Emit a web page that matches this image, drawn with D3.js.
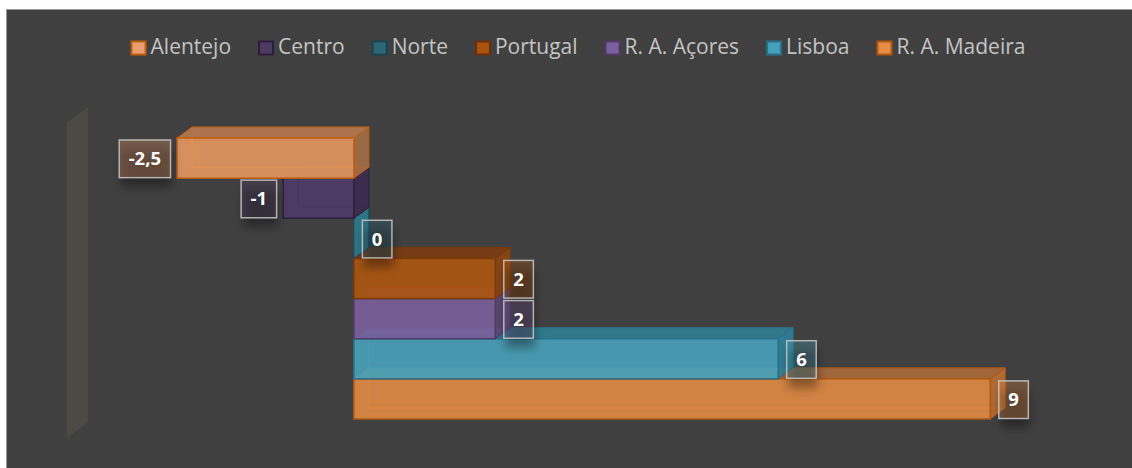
<!DOCTYPE html>
<html><head><meta charset="utf-8">
<script src="https://cdn.jsdelivr.net/npm/d3@7"></script>
<style>body{margin:0;background:#fff;overflow:hidden}</style></head>
<body><svg id="c" width="1132" height="468"></svg>
<script>
// ---- data ----
const categories = ["Alentejo","Centro","Norte","Portugal","R. A. Açores","Lisboa","R. A. Madeira"];
const values = [-2.5, -1, 0, 2, 2, 6, 9];
const valueLabels = ["-2,5","-1","0","2","2","6","9"];
const frontColors = ["#e4985f","#4e3b68","#2a6878","#ad5610","#7b609c","#48a2ba","#e08b42"];
const topColors   = ["#b4784d","#3f3153","#2b6170","#7b3d10","#5f4b7a","#2f7d90","#a9693a"];
const sideColors  = ["#a56c45","#3a2d4c","#2d7b8b","#8a4410","#5a4873","#2f8098","#b86e33"];
const strokeColors= ["#c0600f","#2c2040","#1a4a56","#7a3a0a","#4e3b66","#2a7088","#b0560f"];
const legendFill  = ["#e9a06e","#4b3b63","#2a6878","#a8520f","#7c5fa0","#43a0bb","#e78b45"];
const legendStroke= ["#c0600f","#2a1f3a","#1a4550","#6a300a","#4e3b66","#2a7088","#b0560f"];
const xDomain = [-4, 10];

const svg = d3.select("#c");
const W = 1132, H = 468;

// background
svg.append("rect").attr("x",0).attr("y",0).attr("width",W).attr("height",H).attr("fill","#ffffff");
svg.append("rect").attr("x",6.5).attr("y",9.5).attr("width",W).attr("height",H)
  .attr("fill","#404040").attr("stroke","#9a9a9a").attr("stroke-width",1);

const defs = svg.append("defs");
defs.append("filter").attr("id","blur").attr("x","-50%").attr("y","-50%").attr("width","200%").attr("height","200%")
  .append("feGaussianBlur").attr("stdDeviation",5);

const x = d3.scaleLinear().domain(xDomain).range([71, 1061]);
const y = d3.scaleBand().domain(categories).range([138, 419]).padding(0);
const bw = y.bandwidth();
const dx = 15, dy = -11;

// back wall
const wt = y.range()[0] - 15, wb = y.range()[1] + 19;
svg.append("polygon")
  .attr("points", [[67,wt],[88,wt-16],[88,wb-16],[67,wb]].map(p=>p.join(",")).join(" "))
  .attr("fill","#4b4a45");

// bars, drawn from bottom to top
const data = categories.map((c,i)=>({c, v:values[i], i}));
const gBars = svg.append("g");
data.slice().reverse().forEach(d=>{
  const x0 = x(Math.min(0,d.v)), x1 = x(Math.max(0,d.v));
  const yt = y(d.c), yb = yt + bw;
  const g = gBars.append("g");
  const st = strokeColors[d.i];
  g.append("path").attr("d",`M${x0+dx},${yt+dy}L${x0+dx},${yb+dy}L${x1+dx},${yb+dy}`)
    .attr("fill","none").attr("stroke",st).attr("stroke-width",1.5);
  g.append("polygon").attr("points",[[x0,yt],[x1,yt],[x1+dx,yt+dy],[x0+dx,yt+dy]].map(p=>p.join(",")).join(" "))
    .attr("fill",topColors[d.i]).attr("fill-opacity",0.92).attr("stroke",st).attr("stroke-width",1).attr("stroke-linejoin","round");
  g.append("polygon").attr("points",[[x1,yt],[x1+dx,yt+dy],[x1+dx,yb+dy],[x1,yb]].map(p=>p.join(",")).join(" "))
    .attr("fill",sideColors[d.i]).attr("fill-opacity",0.92).attr("stroke",st).attr("stroke-width",1).attr("stroke-linejoin","round");
  g.append("rect").attr("x",x0).attr("y",yt).attr("width",x1-x0).attr("height",bw)
    .attr("fill",frontColors[d.i]).attr("fill-opacity",0.9).attr("stroke",st).attr("stroke-width",1.5);
});

// data labels
const gLab = svg.append("g");
data.forEach(d=>{
  const yt = y(d.c), yb = yt + bw;
  const t = gLab.append("text").attr("font-family","'Open Sans', sans-serif").attr("font-weight","bold")
    .attr("font-size",18.5).attr("fill","#ffffff").attr("text-anchor","middle").text(valueLabels[d.i]);
  const tw = t.node().getComputedTextLength();
  const w = Math.max(29, tw + 19);
  const bx = d.v < 0 ? x(d.v) - 7 - w : x(d.v) + 8;
  const by = yt + 1.5, bh = bw - 2.5;
  gLab.insert("rect", () => t.node()).attr("x",bx+2).attr("y",by+10).attr("width",w).attr("height",bh)
    .attr("fill","#000").attr("opacity",0.35).attr("filter","url(#blur)");
  gLab.insert("rect", () => t.node()).attr("x",bx+0.5).attr("y",by+0.5).attr("width",w).attr("height",bh)
    .attr("fill",frontColors[d.i]).attr("fill-opacity",0.3).attr("stroke","#c8c8c8").attr("stroke-opacity",0.85).attr("stroke-width",1.5);
  t.attr("x",bx + w/2 + 0.5).attr("y",by + bh/2 + 7);
});

// legend
const gLeg = svg.append("g");
const items = [];
categories.forEach((c,i)=>{
  const gi = gLeg.append("g");
  gi.append("rect").attr("x",1).attr("y",-12.5).attr("width",14).attr("height",13)
    .attr("fill",legendFill[i]).attr("stroke",legendStroke[i]).attr("stroke-width",2);
  const t = gi.append("text").attr("x",20).attr("y",0).attr("font-family","'Open Sans', sans-serif")
    .attr("font-size",21).attr("fill","#c4c4c4").text(c);
  const w = 20 + t.node().getComputedTextLength();
  items.push({gi, w});
});
const gap = 27;
const total = d3.sum(items, d=>d.w) + gap*(items.length-1);
let lx = 578 - total/2;
items.forEach(it=>{ it.gi.attr("transform",`translate(${lx},54)`); lx += it.w + gap; });
</script></body></html>
